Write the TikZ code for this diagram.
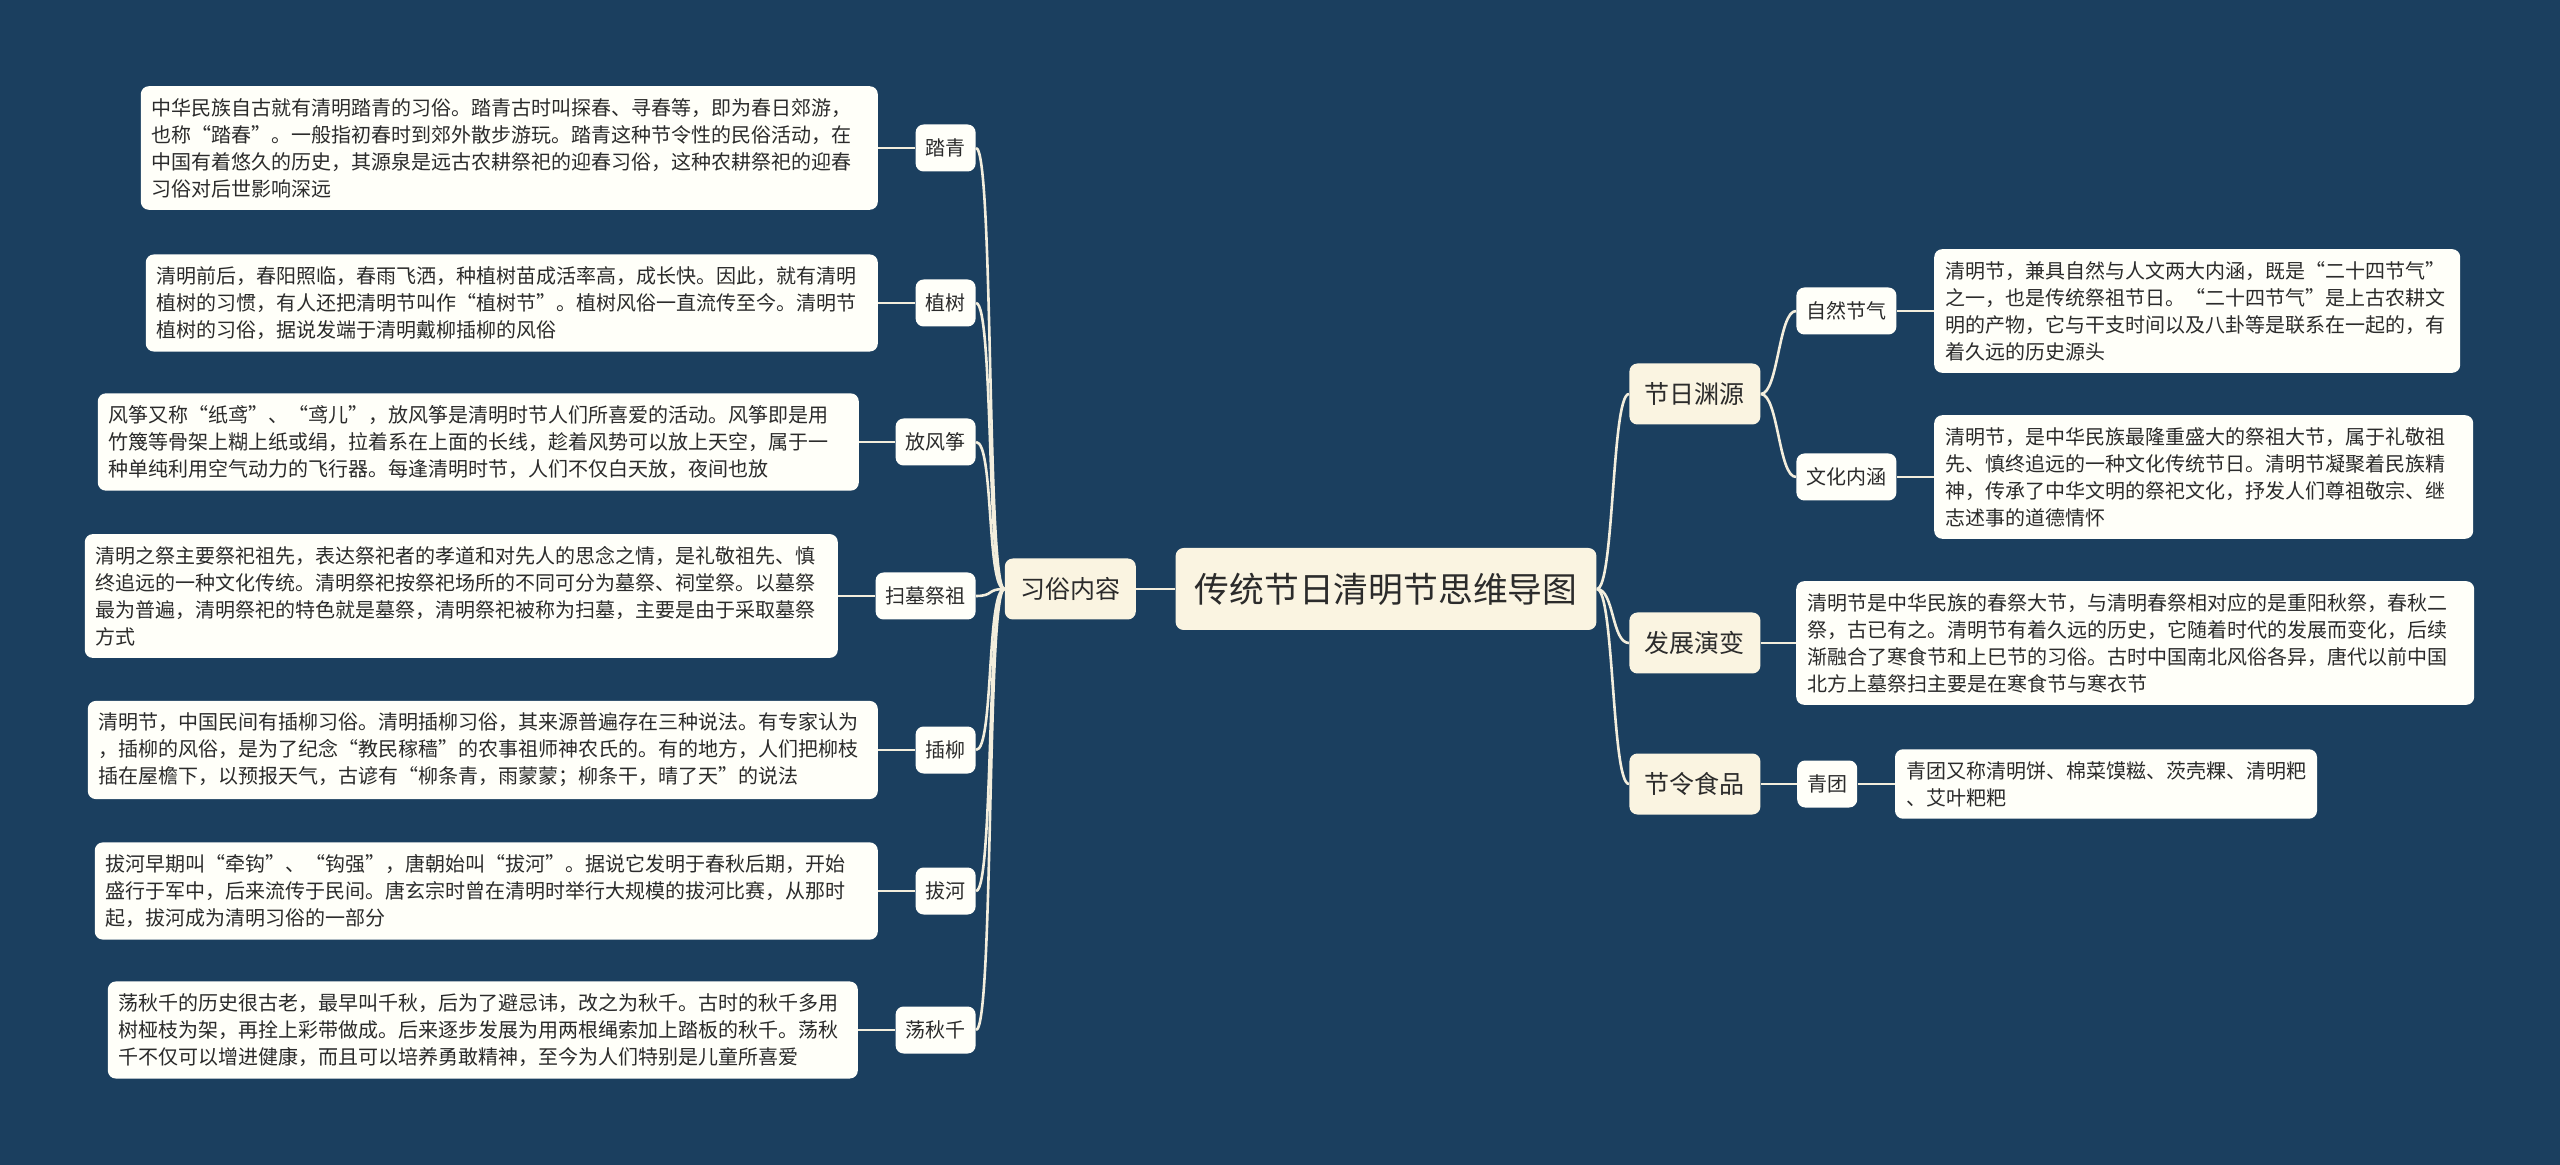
\documentclass[tikz,border=0pt]{standalone}
\usepackage{fontspec}
\setmainfont{Noto Sans CJK SC}
\usetikzlibrary{positioning}
\definecolor{bgblue}{HTML}{1B3F5F}
\definecolor{linecream}{HTML}{F3EEDD}
\definecolor{cream}{HTML}{FAF4E1}
\definecolor{paper}{HTML}{FFFFF9}
\definecolor{txtgray}{HTML}{2B2B2B}

\begin{document}
\begin{tikzpicture}[x=0.5pt,y=-0.5pt,box/.style={rectangle, rounded corners=4pt, text=txtgray},rootbox/.style={box, fill=cream, font=\fontsize{17.4pt}{21pt}\selectfont, inner xsep=9.5pt, minimum height=41pt},topicbox/.style={box, fill=cream, font=\fontsize{12.5pt}{15pt}\selectfont, inner xsep=7.75pt, minimum height=30.5pt},itembox/.style={box, fill=paper, font=\fontsize{10pt}{12pt}\selectfont, inner xsep=5pt, minimum height=23.5pt},textbox/.style={box, fill=paper, font=\fontsize{10pt}{13.5pt}\selectfont, align=left, inner xsep=5.5pt, inner ysep=6pt, text width=#1},link/.style={draw=linecream, line width=1.3pt}]
\fill[bgblue] (0,0) rectangle (2560,1165);

% centre
\node[rootbox] (root) at (1386,589) {传统节日清明节思维导图};
\node[topicbox, left=19.5pt of root] (xisu) {习俗内容};
\node[topicbox, anchor=west] (yuanyuan) at (1629,394) {节日渊源};
\node[topicbox, anchor=west] (fazhan) at (1629,643) {发展演变};
\node[topicbox, anchor=west] (shipin) at (1629,784) {节令食品};

% left branch
\node[itembox, anchor=east] (taqing) at (976,148) {踏青};
\node[itembox, anchor=east] (zhishu) at (976,303) {植树};
\node[itembox, anchor=east] (fengzheng) at (976,442) {放风筝};
\node[itembox, anchor=east] (saomu) at (976,596) {扫墓祭祖};
\node[itembox, anchor=east] (chaliu) at (976,750) {插柳};
\node[itembox, anchor=east] (bahe) at (976,891) {拔河};
\node[itembox, anchor=east] (qiuqian) at (976,1030) {荡秋千};

\node[textbox=357.5pt, left=18.5pt of taqing] (taqing-txt) {中华民族自古就有清明踏青的习俗。踏青古时叫探春、寻春等，即为春日郊游，\\也称“踏春”。一般指初春时到郊外散步游玩。踏青这种节令性的民俗活动，在\\中国有着悠久的历史，其源泉是远古农耕祭祀的迎春习俗，这种农耕祭祀的迎春\\习俗对后世影响深远};
\node[textbox=355pt, left=18.5pt of zhishu] (zhishu-txt) {清明前后，春阳照临，春雨飞洒，种植树苗成活率高，成长快。因此，就有清明\\植树的习惯，有人还把清明节叫作“植树节”。植树风俗一直流传至今。清明节\\植树的习俗，据说发端于清明戴柳插柳的风俗};
\node[textbox=369.5pt, left=18pt of fengzheng] (fengzheng-txt) {风筝又称“纸鸢”、“鸢儿”，放风筝是清明时节人们所喜爱的活动。风筝即是用\\竹篾等骨架上糊上纸或绢，拉着系在上面的长线，趁着风势可以放上天空，属于一\\种单纯利用空气动力的飞行器。每逢清明时节，人们不仅白天放，夜间也放};
\node[textbox=365.5pt, left=18.5pt of saomu] (saomu-txt) {清明之祭主要祭祀祖先，表达祭祀者的孝道和对先人的思念之情，是礼敬祖先、慎\\终追远的一种文化传统。清明祭祀按祭祀场所的不同可分为墓祭、祠堂祭。以墓祭\\最为普遍，清明祭祀的特色就是墓祭，清明祭祀被称为扫墓，主要是由于采取墓祭\\方式};
\node[textbox=384pt, left=18.5pt of chaliu] (chaliu-txt) {清明节，中国民间有插柳习俗。清明插柳习俗，其来源普遍存在三种说法。有专家认为\\，插柳的风俗，是为了纪念“教民稼穑”的农事祖师神农氏的。有的地方，人们把柳枝\\插在屋檐下，以预报天气，古谚有“柳条青，雨蒙蒙；柳条干，晴了天”的说法};
\node[textbox=380.5pt, left=18.5pt of bahe] (bahe-txt) {拔河早期叫“牵钩”、“钩强”，唐朝始叫“拔河”。据说它发明于春秋后期，开始\\盛行于军中，后来流传于民间。唐玄宗时曾在清明时举行大规模的拔河比赛，从那时\\起，拔河成为清明习俗的一部分};
\node[textbox=364pt, left=18.5pt of qiuqian] (qiuqian-txt) {荡秋千的历史很古老，最早叫千秋，后为了避忌讳，改之为秋千。古时的秋千多用\\树桠枝为架，再拴上彩带做成。后来逐步发展为用两根绳索加上踏板的秋千。荡秋\\千不仅可以增进健康，而且可以培养勇敢精神，至今为人们特别是儿童所喜爱};

% right branch
\node[itembox, anchor=west] (ziran) at (1796,311) {自然节气};
\node[itembox, anchor=west] (wenhua) at (1796,477) {文化内涵};
\node[itembox, right=18pt of shipin] (qingtuan) {青团};

\node[textbox=252pt, right=18.5pt of ziran] (ziran-txt) {清明节，兼具自然与人文两大内涵，既是“二十四节气”\\之一，也是传统祭祖节日。“二十四节气”是上古农耕文\\明的产物，它与干支时间以及八卦等是联系在一起的，有\\着久远的历史源头};
\node[textbox=258.5pt, right=18.5pt of wenhua] (wenhua-txt) {清明节，是中华民族最隆重盛大的祭祖大节，属于礼敬祖\\先、慎终追远的一种文化传统节日。清明节凝聚着民族精\\神，传承了中华文明的祭祀文化，抒发人们尊祖敬宗、继\\志述事的道德情怀};
\node[textbox=328pt, right=17.5pt of fazhan] (fazhan-txt) {清明节是中华民族的春祭大节，与清明春祭相对应的是重阳秋祭，春秋二\\祭，古已有之。清明节有着久远的历史，它随着时代的发展而变化，后续\\渐融合了寒食节和上巳节的习俗。古时中国南北风俗各异，唐代以前中国\\北方上墓祭扫主要是在寒食节与寒衣节};
\node[textbox=200pt, right=18.5pt of qingtuan] (qingtuan-txt) {青团又称清明饼、棉菜馍糍、茨壳粿、清明粑\\、艾叶粑粑};

% connectors
\draw[link] (root.west) -- (xisu.east);
\foreach \n in {taqing,zhishu,fengzheng,saomu,chaliu,bahe,qiuqian} {
  \draw[link] (xisu.west) .. controls +(-18,0) and +(18,0) .. (\n.east);
  \draw[link] (\n.west) -- (\n-txt.east);
}
\foreach \n in {yuanyuan,fazhan,shipin}
  \draw[link] (root.east) .. controls +(17.5,0) and +(-17.5,0) .. (\n.west);
\foreach \n in {ziran,wenhua} {
  \draw[link] (yuanyuan.east) .. controls +(17.5,0) and +(-17.5,0) .. (\n.west);
  \draw[link] (\n.east) -- (\n-txt.west);
}
\draw[link] (fazhan.east) -- (fazhan-txt.west);
\draw[link] (shipin.east) -- (qingtuan.west);
\draw[link] (qingtuan.east) -- (qingtuan-txt.west);
\end{tikzpicture}
\end{document}
